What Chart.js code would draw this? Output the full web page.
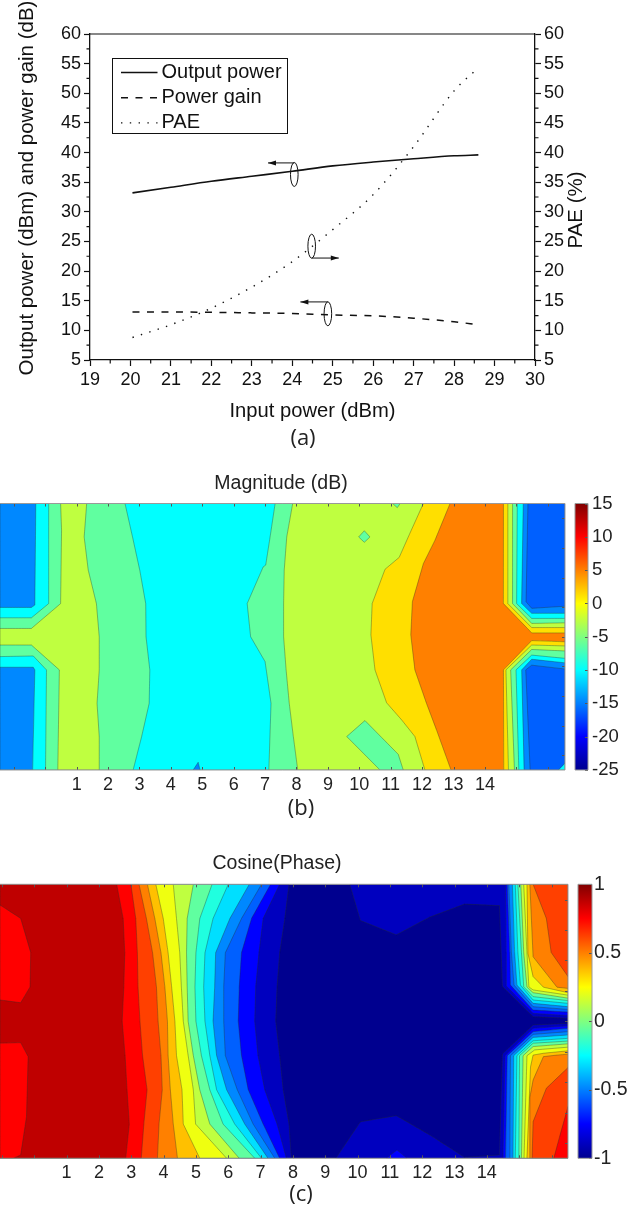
<!DOCTYPE html>
<html lang="en">
<head>
<meta charset="UTF-8">
<title>Power amplifier results</title>
<script src="https://cdn.jsdelivr.net/npm/chart.js"></script>
<style>
    html, body { margin: 0; padding: 0; background: #fff; }
    body { position: relative; width: 638px; height: 1205px; overflow: hidden; }
    canvas { position: absolute; }
    .caption { position: absolute; font: 22px "Open Sans", sans-serif; color: #222; transform: translate(-50%, -50%); }
    .panel-title { position: absolute; font: 19.5px "Liberation Sans", Arial, sans-serif; color: #222; transform: translate(-50%, -50%); white-space: nowrap; }
</style>
</head>
<body>
<canvas id="powerChart" style="left:0;top:0"></canvas>
<div class="caption" style="left:303px;top:436px">(a)</div>
<div class="panel-title" style="left:281px;top:482px">Magnitude (dB)</div>
<canvas id="magChart" style="left:0;top:470px"></canvas>
<canvas id="magBar" style="left:570px;top:470px"></canvas>
<div class="caption" style="left:301px;top:806px">(b)</div>
<div class="panel-title" style="left:277px;top:862px">Cosine(Phase)</div>
<canvas id="cosChart" style="left:0;top:850px"></canvas>
<canvas id="cosBar" style="left:570px;top:850px"></canvas>
<div class="caption" style="left:301px;top:1192px">(c)</div>
<script>
// (a) power sweep
const inputPower = [20.05, 21, 22, 23, 24, 25, 26, 27, 28, 28.6];
const outputPower = [33.2, 34.15, 35.15, 36.0, 36.85, 37.75, 38.4, 38.95, 39.45, 39.6];
const powerGain = [13.1, 13.1, 13.05, 12.95, 12.85, 12.6, 12.45, 12.05, 11.45, 10.95];
const pae = [8.8, 10.95, 13.75, 17.3, 21.6, 27, 32.9, 41, 50.4, 54.3];
const powerXTicks = [19, 20, 21, 22, 23, 24, 25, 26, 27, 28, 29, 30];
const powerXMinor = [19.5, 20.5, 21.5, 22.5, 23.5, 24.5, 25.5, 26.5, 27.5, 28.5, 29.5];
const powerYTicks = [5, 10, 15, 20, 25, 30, 35, 40, 45, 50, 55, 60];
const powerYMinor = [7.5, 12.5, 17.5, 22.5, 27.5, 32.5, 37.5, 42.5, 47.5, 52.5, 57.5];
const calloutEllipses = [[24.05, 36.3], [24.48, 24.2], [24.88, 12.8]];
const calloutArrows = [[24.05, 38.25, 23.4, 38.25], [24.48, 22.2, 25.15, 22.2], [24.88, 14.8, 24.2, 14.8]];

// (b) magnitude contours, x in tone index, y in bin
const magXLabels = [1, 2, 3, 4, 5, 6, 7, 8, 9, 10, 11, 12, 13, 14];
const magXMarks = [-1, 0, 1, 2, 3, 4, 5, 6, 7, 8, 9, 10, 11, 12, 13, 14, 15, 16];
const magYMarks = [-4, -3, -2, -1, 0, 1, 2, 3, 4];
const magBarTicks = [-25, -20, -15, -10, -5, 0, 5, 10, 15];
const magAll = [[-1.44, 4.5], [16.55, 4.5], [16.55, -4.5], [-1.44, -4.5]];
const magDeepUL = [[-1.44, 4.5], [-.30, 4.5], [-.33, 1.07], [-.44, .99], [-1.44, .99]];
const magDeepLL = [[-1.44, -1.03], [-.38, -1.03], [-.33, -1.12], [-.40, -4.5], [-1.44, -4.5]];
const magDeepSpot = [[4.71, -4.5], [4.87, -4.24], [4.93, -4.5]];
const magDeepUR = [[15.22, 4.5], [15.17, 1.12], [15.49, .79], [16.55, .79], [16.55, 4.5]];
const magDeepLR = [[16.55, -.88], [15.49, -.76], [15.17, -1.12], [15.25, -4.5], [16.55, -4.5]];
const magDeeperUR = [[15.37, 4.5], [15.31, 1.18], [15.49, .96], [16.55, 1.03], [16.55, 4.5]];
const magDeeperLR = [[16.55, -1.09], [15.49, -.96], [15.30, -1.12], [15.44, -4.5], [16.55, -4.5]];
const magCornerSpot = [[16.55, -4.27], [16.34, -4.5], [16.55, -4.5]];
const magSpringL = [[.11, 4.5], [.11, 1.12], [-.44, .64], [-1.44, .64], [-1.44, -.67], [-.38, -.65], [.04, -1.12], [.01, -4.5], [2.80, -4.5], [3.07, -3.37], [3.31, -2.25], [3.33, -1.12], [3.21, 0], [3.20, 1.12], [3.01, 2.25], [2.78, 3.37], [2.54, 4.5]];
const magSpringR = [[7.32, 4.5], [7.16, 3.37], [7.02, 2.42], [6.94, 2.36], [6.43, 1.12], [6.54, 0], [7.0, -.84], [7.19, -2.25], [7.12, -4.5], [15.08, -4.5], [14.99, -1.12], [15.49, -.62], [16.55, -.73], [16.55, .62], [15.49, .62], [15.01, 1.12], [15.03, 4.5]];
const magLimeL = [[.49, 4.5], [.52, 3.6], [.49, 1.12], [-.44, .28], [-1.44, .28], [-1.44, -.28], [-.44, -.28], [.45, -1.12], [.40, -4.5], [1.72, -4.5], [1.72, -3.37], [1.65, -2.25], [1.72, -1.12], [1.72, 0], [1.63, 1.12], [1.37, 2.25], [1.24, 3.37], [1.32, 4.5]];
const magLimeR = [[7.88, 4.5], [7.69, 3.37], [7.61, 2.25], [7.59, 1.12], [7.59, 0], [7.67, -1.12], [7.77, -2.25], [7.90, -3.37], [8.04, -4.5], [14.94, -4.5], [14.82, -1.12], [15.49, -.43], [16.55, -.48], [16.55, .47], [15.49, .45], [14.88, 1.12], [14.88, 4.5]];
const magIslandDiamond = [[10.16, 3.58], [10.34, 3.37], [10.16, 3.19], [9.98, 3.37]];
const magIslandTop = [[11.06, 4.5], [11.30, 4.5], [11.21, 4.36]];
const magIslandLow = [[10.18, -2.83], [9.60, -3.37], [10.66, -4.5], [11.40, -4.5], [11.24, -3.97]];
const magGold = [[12.04, 4.5], [11.61, 3.49], [11.27, 2.68], [10.82, 2.28], [10.41, 1.12], [10.37, .06], [10.50, -1.12], [10.87, -2.23], [11.35, -2.81], [11.77, -3.37], [12.09, -4.5], [14.75, -4.5], [14.67, -1.12], [15.49, -.28], [16.55, -.31], [16.55, .31], [15.49, .31], [14.73, 1.12], [14.73, 4.5]];
const magOrange = [[12.89, 4.5], [12.41, 3.26], [12.04, 2.47], [11.69, 1.18], [11.64, .06], [11.77, -1.12], [12.14, -2.25], [12.46, -3.15], [12.92, -4.5], [14.60, -4.5], [14.59, -1.12], [15.49, -.13], [16.55, -.17], [16.55, .13], [15.49, .13], [14.59, 1.12], [14.59, 4.5]];

const magLayers = [
    [magAll, 'cyan'], [magDeepUL, 'azure'], [magDeepLL, 'azure'], [magDeepSpot, 'azure'],
    [magDeepUR, 'azure'], [magDeepLR, 'azure'], [magDeeperUR, 'blue6'], [magDeeperLR, 'blue6'], [magCornerSpot, 'cyan'],
    [magSpringL, 'spring'], [magSpringR, 'spring'], [magLimeL, 'lime'], [magLimeR, 'lime'],
    [magIslandDiamond, 'spring'], [magIslandTop, 'spring'], [magIslandLow, 'spring'],
    [magGold, 'gold'], [magOrange, 'orange']
];

// (c) cosine contours: x of each level boundary at the sampled rows
const cosRows = [4.5, 3.375, 2.25, 1.125, 0, -1.125, -2.25, -3.375, -4.5];
const cosXLabels = [1, 2, 3, 4, 5, 6, 7, 8, 9, 10, 11, 12, 13, 14];
const cosXMarks = [-1, 0, 1, 2, 3, 4, 5, 6, 7, 8, 9, 10, 11, 12, 13, 14, 15, 16];
const cosYMarks = [-4, -3, -2, -1, 0, 1, 2, 3, 4];
const cosBarTicks = [-1, -0.5, 0, 0.5, 1];
const cosB14 = [7.88, 7.75, 7.59, 7.51, 7.47, 7.59, 7.70, 7.88, 7.95];
const cosB13 = [7.59, 7.08, 6.95, 6.85, 6.82, 6.92, 7.13, 7.51, 7.80];
const cosB12 = [7.31, 6.72, 6.41, 6.34, 6.31, 6.41, 6.62, 7.08, 7.59];
const cosB11 = [7.03, 6.41, 5.91, 5.86, 5.86, 5.91, 6.28, 6.77, 7.44];
const cosB10 = [6.65, 6.05, 5.61, 5.58, 5.53, 5.64, 5.95, 6.51, 7.23];
const cosB9 = [6.00, 5.53, 5.28, 5.24, 5.28, 5.43, 5.64, 6.20, 7.03];
const cosB8 = [5.50, 5.12, 5.00, 4.97, 5.00, 5.17, 5.43, 5.84, 6.82];
const cosB7 = [4.92, 4.73, 4.71, 4.73, 4.76, 4.92, 5.12, 5.43, 6.34];
const cosB6 = [4.30, 4.40, 4.50, 4.55, 4.61, 4.76, 4.92, 4.99, 5.95];
const cosB5 = [3.76, 3.99, 4.14, 4.25, 4.35, 4.40, 4.57, 4.61, 5.12];
const cosB4 = [3.50, 3.73, 3.92, 4.04, 4.12, 4.14, 4.21, 4.30, 4.43];
const cosB3 = [3.24, 3.47, 3.66, 3.78, 3.83, 3.92, 3.96, 3.86, 3.81];
const cosB2 = [2.99, 3.14, 3.19, 3.21, 3.27, 3.35, 3.49, 3.39, 3.31];
const cosB1 = [2.55, 2.75, 2.80, 2.77, 2.72, 2.81, 2.87, 2.94, 2.83];
const cosAll = [[-1.06, 4.5], [16.51, 4.5], [16.51, -4.5], [-1.06, -4.5]];
const cosLobeU = [[-1.06, 3.82], [-.42, 3.38], [-.11, 2.26], [-.13, 1.13], [-.42, .61], [-1.06, .70]];
const cosLobeL = [[-1.06, -.72], [-.42, -.70], [-.19, -1.16], [-.24, -3.13], [-.42, -4.39], [-.65, -4.5], [-1.06, -4.5]];
const cosNavyU = [[9.76, 4.5], [10.09, 3.31], [11.20, 2.84], [12.23, 3.42], [13.31, 3.85], [14.39, 3.80], [14.48, 1.14], [15.43, .15], [16.51, .10], [16.51, 4.5]];
const cosNavyL = [[9.33, -4.5], [10.09, -3.30], [11.20, -3.10], [12.23, -3.73], [13.31, -4.47], [14.39, -4.39], [14.48, -1.07], [15.43, -.12], [16.51, -.07], [16.51, -4.5]];
const cosBlueSpot = [[10.89, -4.5], [11.22, -4.23], [11.53, -4.5]];
const cosU1 = [[14.58, 4.5], [14.60, 2.26], [14.60, 1.16], [15.43, .26], [16.51, .19], [16.51, 4.5]];
const cosU2 = [[14.63, 4.5], [14.71, 2.26], [14.73, 1.19], [15.43, .37], [16.51, .30], [16.51, 4.5]];
const cosU3 = [[14.68, 4.5], [14.76, 2.26], [14.84, 1.19], [15.43, .48], [16.51, .39], [16.51, 4.5]];
const cosU4 = [[14.79, 4.5], [14.86, 2.26], [14.93, 1.19], [15.43, .59], [16.51, .48], [16.51, 4.5]];
const cosU5 = [[14.88, 4.5], [14.96, 2.26], [15.04, 1.19], [15.43, .70], [16.51, .59], [16.51, 4.5]];
const cosU6 = [[14.96, 4.5], [15.07, 2.26], [15.14, 1.13], [15.43, .81], [16.51, .68], [16.51, 4.5]];
const cosU7 = [[15.05, 4.5], [15.14, 2.26], [15.24, 1.13], [15.43, .94], [16.51, .76], [16.51, 4.5]];
const cosU8 = [[15.14, 4.5], [15.24, 2.26], [15.30, 1.13], [15.43, 1.03], [16.51, .86], [16.51, 4.5]];
const cosU9 = [[15.24, 4.5], [15.27, 2.23], [15.43, 1.47], [15.75, 1.12], [16.51, .94], [16.51, 4.5]];
const cosU10 = [[15.33, 4.5], [15.43, 2.12], [16.17, 1.12], [16.51, 1.08], [16.51, 4.5]];
const cosU11 = [[15.43, 4.5], [15.84, 3.38], [15.99, 2.26], [16.51, 1.47], [16.51, 4.5]];
const cosL1 = [[16.51, -.15], [15.43, -.23], [14.56, -1.13], [14.50, -4.5], [16.51, -4.5]];
const cosL2 = [[16.51, -.23], [15.43, -.34], [14.63, -1.13], [14.58, -4.5], [16.51, -4.5]];
const cosL3 = [[16.51, -.34], [15.43, -.43], [14.73, -1.13], [14.71, -4.5], [16.51, -4.5]];
const cosL4 = [[16.51, -.45], [15.43, -.53], [14.83, -1.13], [14.81, -4.5], [16.51, -4.5]];
const cosL5 = [[16.51, -.56], [15.43, -.64], [14.93, -1.13], [14.88, -4.5], [16.51, -4.5]];
const cosL6 = [[16.51, -.65], [15.43, -.72], [15.01, -1.13], [14.99, -4.5], [16.51, -4.5]];
const cosL7 = [[16.51, -.74], [15.43, -.83], [15.12, -1.13], [15.07, -4.5], [16.51, -4.5]];
const cosL8 = [[16.51, -.85], [15.48, -.94], [15.24, -1.13], [15.15, -4.5], [16.51, -4.5]];
const cosL9 = [[16.51, -.97], [15.75, -1.05], [15.43, -1.11], [15.35, -1.5], [15.24, -4.5], [16.51, -4.5]];
const cosL10 = [[16.51, -1.08], [16.17, -1.11], [15.75, -1.16], [15.43, -1.93], [15.33, -2.5], [15.33, -4.5], [16.51, -4.5]];
const cosL11 = [[16.51, -1.52], [15.84, -2.20], [15.43, -3.30], [15.40, -4.5], [16.51, -4.5]];
const cosL12 = [[16.51, -2.80], [16.25, -3.79], [16.07, -4.5], [16.51, -4.5]];

// jet colours used by the contour bands
const bandColors = {
    navy: '#00008f', navy2: '#0000bf', blue: '#0000ff', blue6: '#0060ff', azure: '#0088ff', sky: '#00dfff',
    cyan: '#00ffff', turq: '#20ffdf', spring: '#60ffa0', lime: '#bfff40', yellow: '#efff10', gold: '#ffdf00',
    amber: '#ffc000', orange: '#ff8000', redorange: '#ff4000', red: '#ff0000', dark: '#bf0000'
};
const jetStops = [[0, '#00008f'], [.125, '#0000ff'], [.375, '#00ffff'], [.625, '#ffff00'], [.875, '#ff0000'], [1, '#800000']];

function leftOfBoundary(xs, xMin) {
    return [[xMin, cosRows[0]], ...xs.map((x, i) => [x, cosRows[i]]), [xMin, cosRows[cosRows.length - 1]]];
}

const cosXMin = -1.06;
const cosLayers = [
    [cosAll, 'navy'],
    [leftOfBoundary(cosB14, cosXMin), 'navy2'], [leftOfBoundary(cosB13, cosXMin), 'blue'],
    [leftOfBoundary(cosB12, cosXMin), 'blue6'], [leftOfBoundary(cosB11, cosXMin), 'azure'],
    [leftOfBoundary(cosB10, cosXMin), 'sky'], [leftOfBoundary(cosB9, cosXMin), 'turq'],
    [leftOfBoundary(cosB8, cosXMin), 'spring'], [leftOfBoundary(cosB7, cosXMin), 'lime'],
    [leftOfBoundary(cosB6, cosXMin), 'yellow'], [leftOfBoundary(cosB5, cosXMin), 'amber'],
    [leftOfBoundary(cosB4, cosXMin), 'orange'], [leftOfBoundary(cosB3, cosXMin), 'redorange'],
    [leftOfBoundary(cosB2, cosXMin), 'red'], [leftOfBoundary(cosB1, cosXMin), 'dark'],
    [cosLobeU, 'red'], [cosLobeL, 'red'],
    [cosNavyU, 'navy2'], [cosNavyL, 'navy2'], [cosBlueSpot, 'blue'],
    [cosU1, 'blue'], [cosU2, 'blue6'], [cosU3, 'azure'], [cosU4, 'sky'], [cosU5, 'turq'], [cosU6, 'spring'],
    [cosU7, 'lime'], [cosU8, 'yellow'], [cosU9, 'amber'], [cosU10, 'orange'], [cosU11, 'redorange'],
    [cosL1, 'blue'], [cosL2, 'blue6'], [cosL3, 'azure'], [cosL4, 'sky'], [cosL5, 'turq'], [cosL6, 'spring'],
    [cosL7, 'lime'], [cosL8, 'yellow'], [cosL9, 'amber'], [cosL10, 'orange'], [cosL11, 'redorange'], [cosL12, 'red']
];

const FONT = '"Liberation Sans", Arial, sans-serif';
Chart.defaults.font.family = FONT;
Chart.defaults.color = '#111';
Chart.defaults.animation = false;
Chart.defaults.events = [];

// frame and inward ticks for the contour panels and colour bars
const frameMarks = {
    id: 'frameMarks',
    afterDraw(chart, args, opts) {
        const { ctx, chartArea: a, scales } = chart;
        ctx.save();
        ctx.strokeStyle = '#555';
        ctx.lineWidth = 1;
        (opts.xMarks || []).forEach(v => {
            const px = Math.round(scales.x.getPixelForValue(v)) + .5;
            ctx.beginPath();
            ctx.moveTo(px, a.top); ctx.lineTo(px, a.top + 3);
            ctx.moveTo(px, a.bottom); ctx.lineTo(px, a.bottom - 3);
            ctx.stroke();
        });
        (opts.yMarks || []).forEach(v => {
            const py = Math.round(scales.y.getPixelForValue(v)) + .5;
            ctx.beginPath();
            ctx.moveTo(a.right, py); ctx.lineTo(a.right - 3, py);
            ctx.stroke();
        });
        ctx.strokeStyle = '#999';
        ctx.beginPath();
        ctx.moveTo(a.left, a.top); ctx.lineTo(a.right, a.top); ctx.lineTo(a.right, a.bottom); ctx.lineTo(a.left, a.bottom);
        if (opts.closed) ctx.closePath();
        ctx.stroke();
        ctx.restore();
    }
};

function contourChart(id, layers, cfg) {
    const canvas = document.getElementById(id);
    canvas.width = 638;
    canvas.height = cfg.height;
    const n = layers.length;
    return new Chart(canvas, {
        type: 'scatter',
        data: {
            datasets: layers.map(([pts, colorName], i) => ({
                data: [...pts, pts[0]].map(p => ({ x: p[0], y: p[1] })),
                showLine: true,
                fill: 'shape',
                backgroundColor: bandColors[colorName],
                borderColor: 'rgba(40,50,40,0.5)',
                borderWidth: 0.7,
                pointRadius: 0,
                tension: 0.0001, // zero tension takes the fast path, which doubles vertical edges
                order: n - i
            }))
        },
        options: {
            responsive: false,
            layout: { padding: { left: 0, right: cfg.right, top: cfg.top, bottom: 0 } },
            plugins: {
                legend: { display: false },
                tooltip: { enabled: false },
                frameMarks: { xMarks: cfg.xMarks, yMarks: cfg.yMarks }
            },
            scales: {
                x: {
                    type: 'linear', min: cfg.xMin, max: cfg.xMax,
                    grid: { display: false, drawTicks: false }, border: { display: false },
                    afterBuildTicks: axis => { axis.ticks = cfg.xLabels.map(v => ({ value: v })); },
                    afterFit: axis => { axis.height = cfg.axisHeight; },
                    ticks: { autoSkip: false, maxRotation: 0, padding: 4, color: '#222', font: { size: 18 } }
                },
                y: { type: 'linear', min: -4.5, max: 4.5, display: false }
            }
        },
        plugins: [frameMarks]
    });
}

function colorBar(id, cfg) {
    const canvas = document.getElementById(id);
    canvas.width = 68;
    canvas.height = cfg.height;
    return new Chart(canvas, {
        type: 'bar',
        data: {
            labels: [''],
            datasets: [{
                data: [[cfg.min, cfg.max]],
                barPercentage: 1,
                categoryPercentage: 1,
                backgroundColor: c => {
                    const a = c.chart.chartArea;
                    if (!a) return '#fff';
                    const g = c.chart.ctx.createLinearGradient(0, a.bottom, 0, a.top);
                    jetStops.forEach(s => g.addColorStop(s[0], s[1]));
                    return g;
                }
            }]
        },
        options: {
            responsive: false,
            layout: { padding: { left: cfg.left, right: 0, top: cfg.top, bottom: cfg.bottom } },
            plugins: {
                legend: { display: false }, tooltip: { enabled: false },
                frameMarks: { yMarks: cfg.ticks, closed: true }
            },
            scales: {
                x: { display: false },
                y: {
                    position: 'right', min: cfg.min, max: cfg.max,
                    grid: { display: false, drawTicks: false }, border: { display: false },
                    afterBuildTicks: axis => { axis.ticks = cfg.ticks.map(v => ({ value: v })); },
                    afterFit: axis => { axis.width = cfg.axisWidth; },
                    ticks: { padding: cfg.labelGap, color: '#222', font: { size: cfg.labelSize }, callback: v => String(v) }
                }
            }
        },
        plugins: [frameMarks]
    });
}

function rotatedTitle(ctx, text, x, y) {
    ctx.save();
    ctx.translate(x, y);
    ctx.rotate(-Math.PI / 2);
    ctx.textAlign = 'center';
    ctx.textBaseline = 'middle';
    ctx.font = '20.5px ' + FONT;
    ctx.fillStyle = '#111';
    ctx.fillText(text, 0, 0);
    ctx.restore();
}

// minor ticks, box, legend, callouts and rotated titles of panel (a)
const powerExtras = {
    id: 'powerExtras',
    afterDraw(chart) {
        const { ctx, chartArea: a, scales } = chart;
        ctx.save();
        ctx.strokeStyle = '#111';
        ctx.fillStyle = '#111';
        ctx.lineWidth = 1.2;
        ctx.beginPath();
        ctx.moveTo(a.left, a.top); ctx.lineTo(a.right, a.top);
        powerXMinor.forEach(v => {
            const px = scales.x.getPixelForValue(v);
            ctx.moveTo(px, a.bottom); ctx.lineTo(px, a.bottom + 3.5);
        });
        powerYMinor.forEach(v => {
            const py = scales.y.getPixelForValue(v);
            ctx.moveTo(a.left, py); ctx.lineTo(a.left - 3.5, py);
            ctx.moveTo(a.right, py); ctx.lineTo(a.right + 3.5, py);
        });
        ctx.stroke();

        // callouts
        ctx.lineWidth = 1;
        calloutEllipses.forEach(([x, y]) => {
            ctx.beginPath();
            ctx.ellipse(scales.x.getPixelForValue(x), scales.y.getPixelForValue(y), 3.8, 12, 0, 0, Math.PI * 2);
            ctx.stroke();
        });
        calloutArrows.forEach(([x0, y0, x1, y1]) => {
            const px0 = scales.x.getPixelForValue(x0), py = scales.y.getPixelForValue(y0);
            const px1 = scales.x.getPixelForValue(x1), dir = Math.sign(px1 - px0);
            ctx.beginPath();
            ctx.moveTo(px0, py); ctx.lineTo(px1, py);
            ctx.stroke();
            ctx.beginPath();
            ctx.moveTo(px1, py); ctx.lineTo(px1 - dir * 8, py - 2.5); ctx.lineTo(px1 - dir * 8, py + 2.5);
            ctx.fill();
        });

        // legend box
        const box = { l: 112.5, t: 58.5, w: 175, h: 75 };
        ctx.fillStyle = '#fff';
        ctx.fillRect(box.l, box.t, box.w, box.h);
        ctx.lineWidth = 1;
        ctx.strokeRect(box.l, box.t, box.w, box.h);
        ctx.font = '20px ' + FONT;
        ctx.textBaseline = 'middle';
        chart.data.datasets.forEach((ds, i) => {
            const y = box.t + 14 + i * 25.2;
            ctx.beginPath();
            ctx.setLineDash(ds.borderDash || []);
            ctx.lineWidth = ds.borderWidth;
            ctx.strokeStyle = ds.borderColor;
            ctx.moveTo(box.l + 8.5, y); ctx.lineTo(box.l + 45, y);
            ctx.stroke();
            ctx.setLineDash([]);
            ctx.fillStyle = '#111';
            ctx.fillText(ds.label, box.l + 49, y);
        });
        ctx.restore();

        rotatedTitle(ctx, 'Output power (dBm) and power gain (dB)', 27, 188);
        rotatedTitle(ctx, 'PAE (%)', 576, 210);
    }
};

const powerCanvas = document.getElementById('powerChart');
powerCanvas.width = 638;
powerCanvas.height = 450;
new Chart(powerCanvas, {
    type: 'line',
    data: {
        labels: inputPower,
        datasets: [
            { label: 'Output power', data: outputPower, yAxisID: 'y', borderColor: '#111', borderWidth: 1.6, pointRadius: 0, cubicInterpolationMode: 'monotone' },
            { label: 'Power gain', data: powerGain, yAxisID: 'y', borderColor: '#111', borderWidth: 1.5, borderDash: [7, 7.5], pointRadius: 0, cubicInterpolationMode: 'monotone' },
            { label: 'PAE', data: pae, yAxisID: 'y1', borderColor: '#111', borderWidth: 1.4, borderDash: [1.4, 7.4], pointRadius: 0, cubicInterpolationMode: 'monotone' }
        ]
    },
    options: {
        responsive: false,
        layout: { padding: { left: 0, right: 0, top: 34, bottom: 0 } },
        plugins: { legend: { display: false }, tooltip: { enabled: false } },
        scales: {
            x: {
                type: 'linear', min: 19, max: 30,
                grid: { drawOnChartArea: false, tickLength: 6, tickColor: '#111', tickWidth: 1.2 },
                border: { color: '#111', width: 1.3 },
                afterBuildTicks: axis => { axis.ticks = powerXTicks.map(v => ({ value: v })); },
                afterFit: axis => { axis.height = 90; },
                ticks: { padding: 3, maxRotation: 0, autoSkip: false, color: '#111', font: { size: 18 } },
                title: { display: true, text: 'Input power (dBm)', color: '#111', font: { size: 20.2 }, padding: { top: 0, bottom: 26 } }
            },
            y: {
                min: 5, max: 60,
                grid: { drawOnChartArea: false, tickLength: 6, tickColor: '#111', tickWidth: 1.2 },
                border: { color: '#111', width: 1.3 },
                afterBuildTicks: axis => { axis.ticks = powerYTicks.map(v => ({ value: v })); },
                afterFit: axis => { axis.width = 90; },
                ticks: { padding: 3, color: '#111', font: { size: 18 } }
            },
            y1: {
                position: 'right', min: 5, max: 60,
                grid: { drawOnChartArea: false, tickLength: 6, tickColor: '#111', tickWidth: 1.2 },
                border: { color: '#111', width: 1.3 },
                afterBuildTicks: axis => { axis.ticks = powerYTicks.map(v => ({ value: v })); },
                afterFit: axis => { axis.width = 103; },
                ticks: { padding: 3, color: '#111', font: { size: 18 } }
            }
        }
    },
    plugins: [powerExtras]
});

contourChart('magChart', magLayers, {
    height: 350, top: 33.5, right: 73, axisHeight: 50,
    xMin: -1.44, xMax: 16.55, xLabels: magXLabels, xMarks: magXMarks, yMarks: magYMarks
});
colorBar('magBar', { height: 350, min: -25, max: 15, ticks: magBarTicks, left: 5, top: 33.5, bottom: 50, axisWidth: 50, labelGap: 4, labelSize: 18.5 });

contourChart('cosChart', cosLayers, {
    height: 355, top: 34.3, right: 70, axisHeight: 46.7,
    xMin: cosXMin, xMax: 16.51, xLabels: cosXLabels, xMarks: cosXMarks, yMarks: cosYMarks
});
colorBar('cosBar', { height: 355, min: -1, max: 1, ticks: cosBarTicks, left: 8, top: 34.3, bottom: 46.7, axisWidth: 46, labelGap: 2, labelSize: 19.5 });
</script>
</body>
</html>
